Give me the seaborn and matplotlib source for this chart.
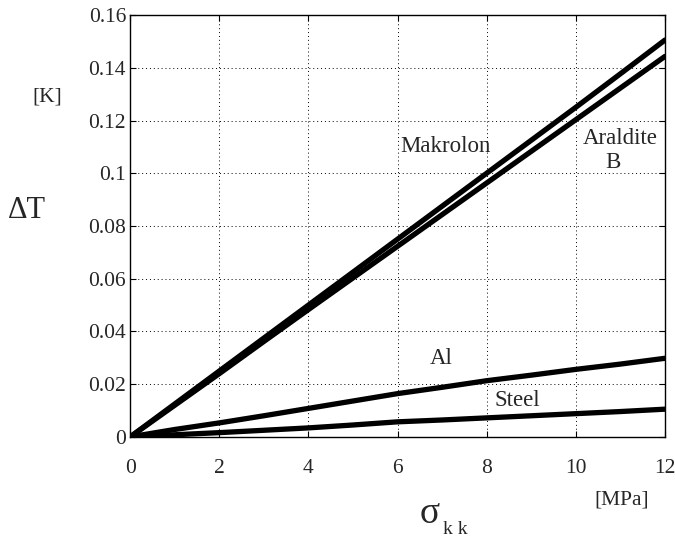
import matplotlib
matplotlib.use("Agg")
import matplotlib.pyplot as plt
import seaborn as sns
import pandas as pd

# stress [MPa]
sigma = [0, 1, 2, 3, 4, 5, 6, 7, 8, 9, 10, 11, 12]
# temperature change [K]
makrolon = [0, 0.0125, 0.025, 0.0375, 0.05, 0.0625, 0.075, 0.0875, 0.1, 0.1125, 0.125, 0.1377, 0.1505]
araldite = [0, 0.012, 0.024, 0.0362, 0.0483, 0.0603, 0.0723, 0.0843, 0.0963, 0.1083, 0.1203, 0.1323, 0.1443]
al = [0, 0.0028, 0.0053, 0.008, 0.0108, 0.0136, 0.0164, 0.0188, 0.0213, 0.0234, 0.0256, 0.0276, 0.0298]
steel = [0, 0.0008, 0.0016, 0.0025, 0.0034, 0.0045, 0.0057, 0.0064, 0.0072, 0.008, 0.0088, 0.0096, 0.0105]

xticks = [0, 2, 4, 6, 8, 10, 12]
yticks = [0, 0.02, 0.04, 0.06, 0.08, 0.1, 0.12, 0.14, 0.16]
ytick_labels = ["0", "0.02", "0.04", "0.06", "0.08", "0.1", "0.12", "0.14", "0.16"]

df = pd.DataFrame({"sigma": sigma * 4,
                   "dT": makrolon + araldite + al + steel,
                   "material": ["Makrolon"] * 13 + ["Araldite B"] * 13 + ["Al"] * 13 + ["Steel"] * 13})

sns.set_style("white")
plt.rcParams["font.family"] = ["Liberation Serif", "DejaVu Serif"]

fig = plt.figure(figsize=(6.75, 5.38), dpi=100)
ax = fig.add_axes([0.193, 0.188, 0.792, 0.784])

sns.lineplot(data=df, x="sigma", y="dT", units="material", estimator=None,
             color="black", linewidth=3.8, ax=ax, legend=False)

ax.set_xlim(0, 12)
ax.set_ylim(0, 0.16)
ax.set_xticks(xticks)
ax.set_yticks(yticks)
ax.set_yticklabels(ytick_labels)
ax.grid(True, color="black", linestyle=(0, (1, 3)), linewidth=0.7)
for s in ax.spines.values():
    s.set_color("black")
    s.set_linewidth(1.0)
ax.tick_params(direction="in", length=4, labelsize=15.5, color="black",
               top=True, right=True, bottom=True, left=True)
ax.tick_params(axis="x", pad=16)
ax.tick_params(axis="y", pad=3)
ax.set_xlabel("")
ax.set_ylabel("")

fig.text(47 / 675, 1 - 97 / 538, "[K]", fontsize=15.5, ha="center", va="center")
fig.text(27 / 675, 1 - 210 / 538, "ΔT", fontsize=22, ha="center", va="center")
fig.text(622 / 675, 1 - 500 / 538, "[MPa]", fontsize=15.5, ha="center", va="center")
fig.text(430 / 675, 1 - 514 / 538, "σ", fontsize=27, ha="center", va="center")
fig.text(455 / 675, 1 - 530 / 538, "k k", fontsize=14, ha="center", va="center")

ax.text(7.07, 0.110, "Makrolon", fontsize=16.5, ha="center", va="center")
ax.text(10.99, 0.1133, "Araldite", fontsize=16.5, ha="center", va="center")
ax.text(10.83, 0.1039, "B", fontsize=16.5, ha="center", va="center")
ax.text(6.98, 0.0296, "Al", fontsize=16.5, ha="center", va="center")
ax.text(8.68, 0.01365, "Steel", fontsize=16.5, ha="center", va="center")

fig.savefig("out.png", dpi=100)
